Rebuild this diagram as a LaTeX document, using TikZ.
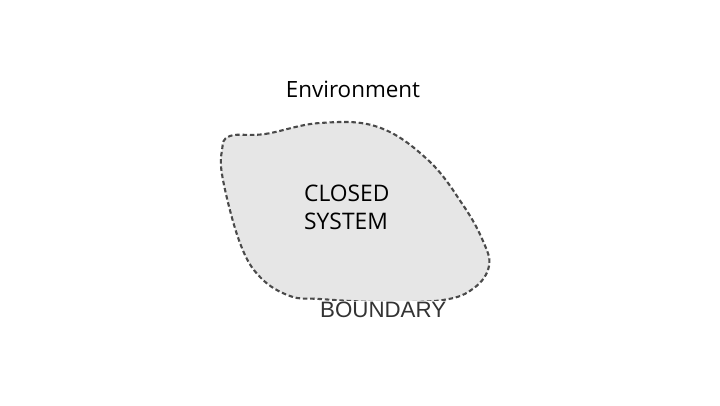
\documentclass[tikz,border=0pt]{standalone}
\usepackage{fontspec}
\newfontfamily\opensans{Open Sans}
\newfontfamily\arialf{Liberation Sans}
\begin{document}
\begin{tikzpicture}[x=1pt,y=-1pt,
  blob/.style={fill=blobgray,draw=dashgray,line width=2.1pt,dash pattern=on 4.5pt off 2.8pt},
  lbl/.style={inner sep=0pt,text=black}]
\definecolor{blobgray}{HTML}{E6E6E6}
\definecolor{dashgray}{HTML}{4A4A4A}
\useasboundingbox[fill=white] (0,0) rectangle (720,405);
\draw[blob] plot[smooth cycle,tension=0.65] coordinates{
 (230,136) (265,134) (320,123) (378,127) (428,160) (463,205) (483,241)
 (489,266) (474,288) (443,300) (380,302) (320,299) (290,296) (260,277)
 (240,243) (223,180) (222,150)};
\node[lbl,font=\opensans\fontsize{22.4}{27}\selectfont] (env) at (353,89) {Environment};
\node[lbl,font=\opensans\fontsize{22.8}{28}\selectfont,align=left,anchor=west] (sys) at (304,207) {CLOSED\\SYSTEM};
\node[lbl,font=\arialf\fontsize{22.3}{26}\selectfont,text=black!80,fill=white,inner sep=1pt,anchor=west] (bnd) at (319,310) {BOUNDARY};
\end{tikzpicture}
\end{document}
